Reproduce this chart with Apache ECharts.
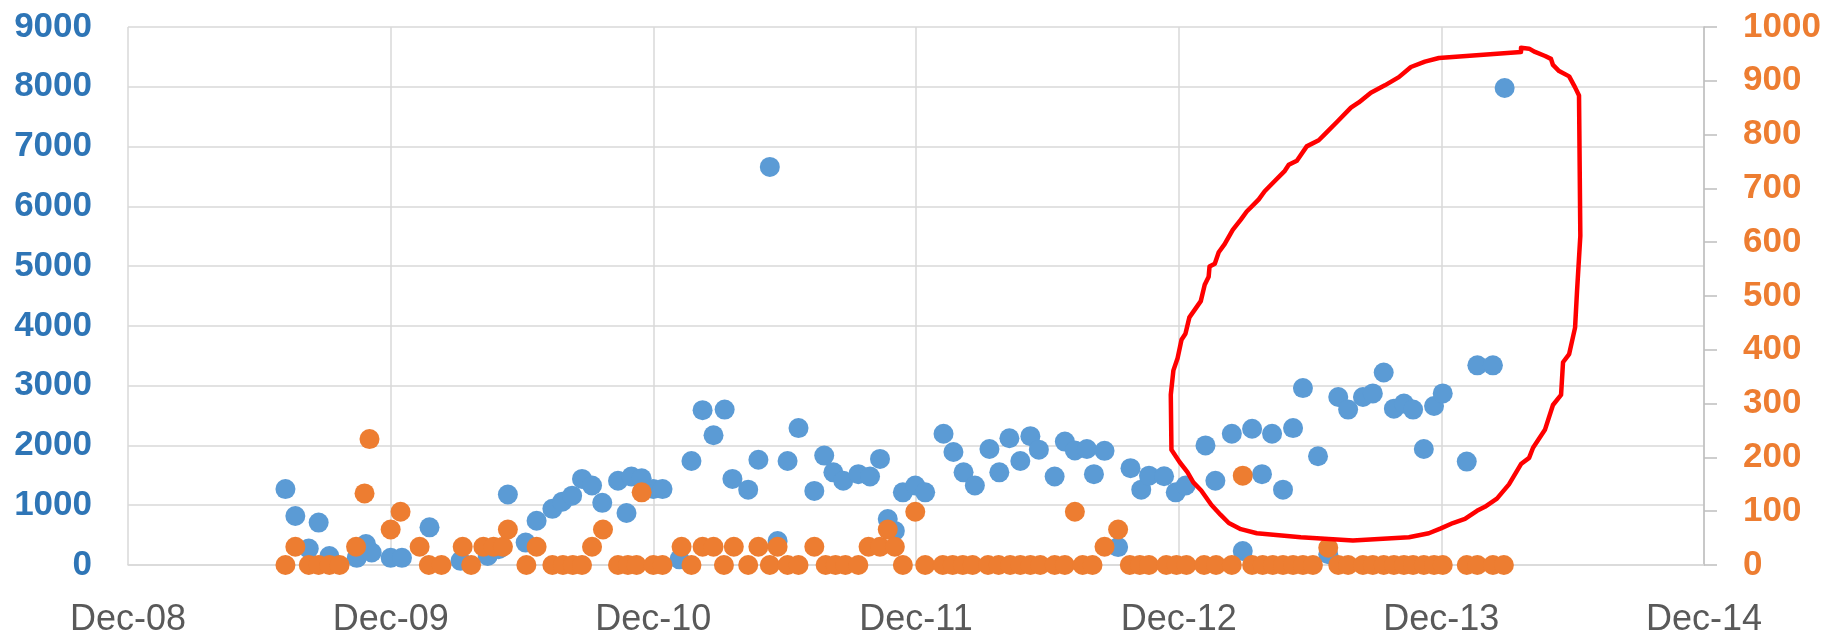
<!DOCTYPE html>
<html>
<head>
<meta charset="utf-8">
<script src="https://cdn.jsdelivr.net/npm/echarts@6/dist/echarts.min.js"></script>
<style>
html,body{margin:0;padding:0;background:#ffffff;}
#chart{width:1828px;height:639px;}
</style>
</head>
<body>
<div id="chart"></div>
<script>
// X axis tick labels (one per year, starting Dec 2008)
const xTickLabels = ['Dec-08','Dec-09','Dec-10','Dec-11','Dec-12','Dec-13','Dec-14'];

// Blue series (left axis)
const blueDates = [
'2009-07-07','2009-07-21','2009-08-09','2009-08-23','2009-09-07','2009-10-15','2009-10-28','2009-11-05','2009-12-01','2009-12-17',
'2010-01-25','2010-03-07','2010-04-14','2010-04-29','2010-05-12','2010-06-06','2010-06-21','2010-07-13','2010-07-27','2010-08-10',
'2010-08-24','2010-09-07','2010-09-21','2010-10-13','2010-10-25','2010-11-01','2010-11-15','2010-12-01','2010-12-14','2011-01-07',
'2011-01-24','2011-02-08','2011-02-22','2011-03-09','2011-03-20','2011-04-11','2011-04-25','2011-05-11','2011-05-22','2011-06-05',
'2011-06-20','2011-07-12','2011-07-26','2011-08-08','2011-08-22','2011-09-12','2011-09-28','2011-10-12','2011-10-23','2011-11-02',
'2011-11-13','2011-11-30','2011-12-14','2012-01-09','2012-01-23','2012-02-06','2012-02-21','2012-03-12','2012-03-26','2012-04-09',
'2012-04-24','2012-05-08','2012-05-20','2012-06-11','2012-06-25','2012-07-09','2012-07-26','2012-08-05','2012-08-20','2012-09-08',
'2012-09-25','2012-10-10','2012-10-21','2012-11-11','2012-11-27','2012-12-11','2013-01-08','2013-01-22','2013-02-13','2013-02-27',
'2013-03-12','2013-03-26','2013-04-09','2013-04-24','2013-05-08','2013-05-22','2013-06-12','2013-06-26','2013-07-10','2013-07-24',
'2013-08-14','2013-08-28','2013-09-12','2013-09-26','2013-10-10','2013-10-23','2013-11-07','2013-11-21','2013-12-03','2014-01-06',
'2014-01-21','2014-02-11','2014-02-26'];
const blueValues = [
1270,820,275,710,150,120,350,210,120,120,
630,70,150,265,1180,375,740,940,1060,1160,
1440,1330,1040,1410,870,1480,1450,1270,1270,95,
1740,2590,2170,2600,1440,1260,1760,6660,400,1740,
2290,1240,1830,1550,1410,1520,1480,1775,770,570,
1215,1330,1215,2195,1890,1550,1330,1940,1550,2120,
1740,2155,1930,1480,2065,1915,1940,1520,1910,300,
1620,1260,1495,1485,1215,1330,2000,1410,2195,235,
2280,1520,2195,1260,2290,2960,1820,180,2810,2600,
2810,2870,3220,2615,2700,2600,1940,2660,2870,1730,
3340,3340,7980];

// Orange series (right axis)
const orangeDates = [
'2009-07-07','2009-07-21','2009-08-09','2009-08-23','2009-09-07','2009-09-21','2009-10-14','2009-10-26','2009-11-02','2009-12-01',
'2009-12-15','2010-01-11','2010-01-24','2010-02-10','2010-03-10','2010-03-22','2010-04-08','2010-04-22','2010-05-05','2010-05-12',
'2010-06-07','2010-06-21','2010-07-13','2010-07-28','2010-08-11','2010-08-24','2010-09-07','2010-09-22','2010-10-13','2010-10-27',
'2010-11-08','2010-11-15','2010-12-01','2010-12-14','2011-01-10','2011-01-24','2011-02-08','2011-02-22','2011-03-08','2011-03-22',
'2011-04-11','2011-04-25','2011-05-11','2011-05-22','2011-06-05','2011-06-20','2011-07-12','2011-07-28','2011-08-11','2011-08-25',
'2011-09-12','2011-09-26','2011-10-12','2011-10-23','2011-11-02','2011-11-13','2011-11-30','2011-12-14','2012-01-08','2012-01-22',
'2012-02-05','2012-02-18','2012-03-10','2012-03-25','2012-04-10','2012-04-24','2012-05-08','2012-05-22','2012-06-11','2012-06-25',
'2012-07-09','2012-07-20','2012-08-03','2012-08-20','2012-09-08','2012-09-24','2012-10-08','2012-10-21','2012-11-14','2012-11-28',
'2012-12-12','2013-01-06','2013-01-23','2013-02-13','2013-02-27','2013-03-12','2013-03-27','2013-04-10','2013-04-24','2013-05-08',
'2013-05-22','2013-06-05','2013-06-26','2013-07-10','2013-07-24','2013-08-14','2013-08-28','2013-09-12','2013-09-26','2013-10-10',
'2013-10-23','2013-11-07','2013-11-21','2013-12-03','2014-01-06','2014-01-21','2014-02-11','2014-02-25'];
const orangeValues = [
0,34,0,0,0,0,34,133,234,66,
99,34,0,0,34,0,34,34,34,66,
0,34,0,0,0,0,34,66,0,0,
0,135,0,0,34,0,34,34,0,34,
0,34,0,34,0,0,34,0,0,0,
0,34,34,66,34,0,99,0,0,0,
0,0,0,0,0,0,0,0,0,0,
99,0,0,34,66,0,0,0,0,0,
0,0,0,0,166,0,0,0,0,0,
0,0,32,0,0,0,0,0,0,0,
0,0,0,0,0,0,0,0];

// Hand-drawn red annotation loop (x in months after Dec-08, y on left axis)
const redPathMonths = [63.64,63.64,64.01,64.28,64.74,65.01,65.10,65.38,65.84,66.11,66.29,66.35,66.20,66.11,65.84,65.56,65.47,65.10,64.74,64.19,
64.01,63.64,63.09,62.54,61.99,61.63,61.08,60.53,59.98,59.43,58.52,55.96,53.58,51.57,50.84,50.29,49.92,49.49,49.03,48.67,
48.40,48.04,47.67,47.64,47.76,47.95,48.13,48.31,48.49,49.01,49.19,49.37,49.41,49.65,49.83,50.10,50.47,50.84,51.11,51.48,
51.66,51.93,52.39,52.85,53.03,53.40,53.85,54.40,54.68,55.23,55.87,56.23,56.78,57.42,58.06,58.61,59.25,59.89,63.64];
const redPathValues = [8583,8651,8638,8583,8515,8467,8365,8263,8174,7990,7854,5504,4584,3971,3529,3392,2847,2677,2268,1962,
1792,1689,1349,1110,974,906,770,702,613,531,463,409,463,531,599,702,838,1008,1247,1383,
1553,1723,1928,2847,3256,3460,3767,3869,4142,4414,4687,4823,4993,5041,5232,5368,5606,5777,5913,6049,
6117,6253,6424,6594,6696,6764,7003,7105,7207,7411,7650,7738,7902,8024,8161,8331,8420,8481,8583];

function toMonths(s) {
  const p = s.split('-').map(Number);
  const dim = new Date(p[0], p[1], 0).getDate();
  return (p[0] - 2008) * 12 + (p[1] - 12) + (p[2] - 1) / dim;
}

const blueData = blueDates.map((d, i) => [toMonths(d), blueValues[i]]);
const orangeData = orangeDates.map((d, i) => [toMonths(d), orangeValues[i]]);
const redData = redPathMonths.map((m, i) => [m, redPathValues[i]]);

const FONT = "'Liberation Sans', Arial, sans-serif";
const chart = echarts.init(document.getElementById('chart'), null, {renderer: 'canvas'});
chart.setOption({
  animation: false,
  backgroundColor: '#ffffff',
  grid: {left: 128, right: 124, top: 27, bottom: 74, containLabel: false, outerBoundsMode: 'none'},
  xAxis: {
    type: 'value', min: 0, max: 72, interval: 12,
    axisLine: {show: true, lineStyle: {color: '#D9D9D9', width: 1.5}},
    axisTick: {show: false},
    splitLine: {show: true, lineStyle: {color: '#D9D9D9', width: 1.5}},
    axisLabel: {
      showMinLabel: true, showMaxLabel: true,
      formatter: v => xTickLabels[Math.round(v / 12)],
      color: '#595959', fontSize: 36, fontFamily: FONT, margin: 37
    }
  },
  yAxis: [
    {
      type: 'value', min: 0, max: 9000, interval: 1000, position: 'left',
      axisLine: {show: false}, axisTick: {show: false},
      splitLine: {show: true, lineStyle: {color: '#D9D9D9', width: 1.5}},
      axisLabel: {showMinLabel: true, showMaxLabel: true, formatter: v => String(v),
        color: '#2E75B6', fontSize: 35, fontWeight: 'bold', fontFamily: FONT, margin: 36}
    },
    {
      type: 'value', min: 0, max: 1000, interval: 100, position: 'right',
      axisLine: {show: true, lineStyle: {color: '#BFBFBF', width: 1.5}},
      axisTick: {show: true, inside: false, length: 13, lineStyle: {color: '#BFBFBF', width: 1.5}},
      splitLine: {show: false},
      axisLabel: {showMinLabel: true, showMaxLabel: true, formatter: v => String(v),
        color: '#ED7D31', fontSize: 35, fontWeight: 'bold', fontFamily: FONT, margin: 39}
    }
  ],
  series: [
    {
      type: 'scatter', xAxisIndex: 0, yAxisIndex: 0, data: blueData,
      symbol: 'circle', symbolSize: 20, itemStyle: {color: '#5B9BD5', opacity: 1}, z: 3, silent: true
    },
    {
      type: 'scatter', xAxisIndex: 0, yAxisIndex: 1, data: orangeData,
      symbol: 'circle', symbolSize: 20, itemStyle: {color: '#ED7D31', opacity: 1}, z: 4, silent: true
    },
    {
      type: 'line', xAxisIndex: 0, yAxisIndex: 0, data: redData,
      symbol: 'none', smooth: false, lineStyle: {color: '#FF0000', width: 4.5, join: 'round', cap: 'round'},
      z: 5, silent: true
    }
  ]
});
</script>
</body>
</html>
